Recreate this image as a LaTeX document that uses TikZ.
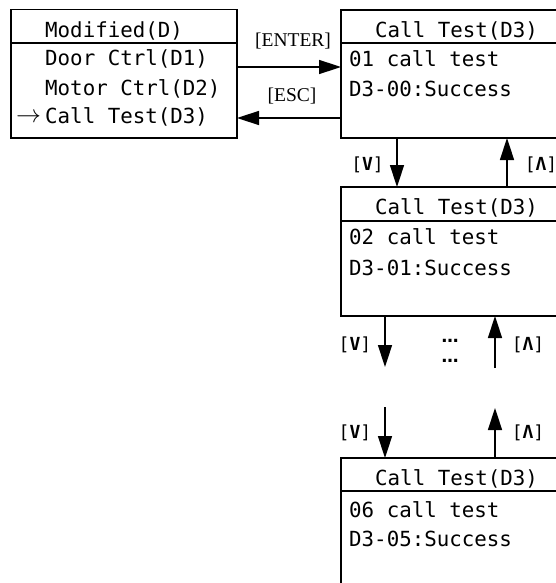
\documentclass[tikz,border=0pt]{standalone}
\usepackage{fontspec}
\setmainfont{Liberation Serif}
\newfontfamily\lcdfont{DejaVu Sans Mono}
\newfontfamily\dotfont{DejaVu Sans}
\usetikzlibrary{arrows.meta,positioning}
\tikzset{
  screen/.style={draw, line width=1.8pt, inner sep=0pt, outer sep=0pt, anchor=north west, minimum width=234pt, minimum height=129pt},
  row/.style={font=\lcdfont\fontsize{20.8}{24}\selectfont, anchor=base west, inner sep=0pt},
  keyname/.style={font=\fontsize{19.5}{21}\selectfont, inner sep=0pt},
  btn/.style={font=\lcdfont\fontsize{18}{20}\selectfont, inner sep=0pt},
  gapdots/.style={font=\dotfont\bfseries\fontsize{17}{17}\selectfont, inner sep=0pt},
  arr/.style={line width=1.5pt, -{Triangle[length=22pt,width=14pt]}},
}

\begin{document}
\begin{tikzpicture}[x=1pt, y=-1pt]
            \path[use as bounding box, clip] (0,0) rectangle (556,583);
            % Menu screen
            \node[screen, minimum width=226pt, minimum height=128.5pt] (menu) at (11,9.5) {};
            \draw[line width=1.8pt] ([yshift=-33.5pt]menu.north west) -- ([yshift=-33.5pt]menu.north east);
            \node[row] (menuT) at (45,38) {Modified(D)};
            \node[row] (menuA) at (45,66) {Door Ctrl(D1)};
            \node[row] (menuB) at (45,95.5) {Motor Ctrl(D2)};
            \node[row] (menuC) at (16,124) {\makebox[29pt][l]{\raisebox{1.5pt}{\fontsize{27}{27}\selectfont$\rightarrow$}}Call Test(D3)};
            % Call test screens
            \node[screen, minimum height=128pt] (call1) at (341,10) {};
            \draw[line width=1.8pt] ([yshift=-33pt]call1.north west) -- ([yshift=-33pt]call1.north east);
            \node[row] (call1T) at (375,38) {Call Test(D3)};
            \node[row] (call1A) at (349,67) {01 call test};
            \node[row] (call1B) at (349,96.5) {D3-00:Success};
            \node[screen] (call2) at (341,187) {};
            \draw[line width=1.8pt] ([yshift=-34pt]call2.north west) -- ([yshift=-34pt]call2.north east);
            \node[row] (call2T) at (375,214) {Call Test(D3)};
            \node[row] (call2A) at (349,244) {02 call test};
            \node[row] (call2B) at (349,275) {D3-01:Success};
            \node[screen] (call3) at (341,458) {};
            \draw[line width=1.8pt] ([yshift=-33pt]call3.north west) -- ([yshift=-33pt]call3.north east);
            \node[row] (call3T) at (375,485) {Call Test(D3)};
            \node[row] (call3A) at (349,517) {06 call test};
            \node[row] (call3B) at (349,546) {D3-05:Success};
            % Keys
            \draw[arr] (menu.east |- 0,67) -- (call1.west |- 0,67);
            \draw[arr] (call1.west |- 0,118) -- (menu.east |- 0,118);
            \node[keyname] (enter) at (293,41) {[ENTER]};
            \node[keyname] (esc) at (292,96) {[ESC]};
            \draw[arr] (call1.south -| 397,0) -- (call2.north -| 397,0);
            \draw[arr] (call2.north -| 507,0) -- (call1.south -| 507,0);
            \node[btn] (down1) at (367.5,165) {[\textbf{V}]};
            \node[btn] (up1) at (541,165) {[\textbf{Λ}]};
            \coordinate (gapA) at (385,367);
            \coordinate (gapB) at (495,368);
            \draw[arr] (call2.south -| gapA) -- (gapA);
            \draw[arr] (gapB) -- (call2.south -| gapB);
            \node[btn] (down2) at (355,345) {[\textbf{V}]};
            \node[btn] (up2) at (528,345) {[\textbf{Λ}]};
            \node[gapdots] (more1) at (450,341) {…};
            \node[gapdots] (more2) at (450,361) {…};
            \coordinate (gapC) at (385,407);
            \coordinate (gapD) at (495,408);
            \draw[arr] (gapC) -- (call3.north -| gapC);
            \draw[arr] (call3.north -| gapD) -- (gapD);
            \node[btn] (down3) at (355,433) {[\textbf{V}]};
            \node[btn] (up3) at (528,433) {[\textbf{Λ}]};
        \end{tikzpicture}
\end{document}
